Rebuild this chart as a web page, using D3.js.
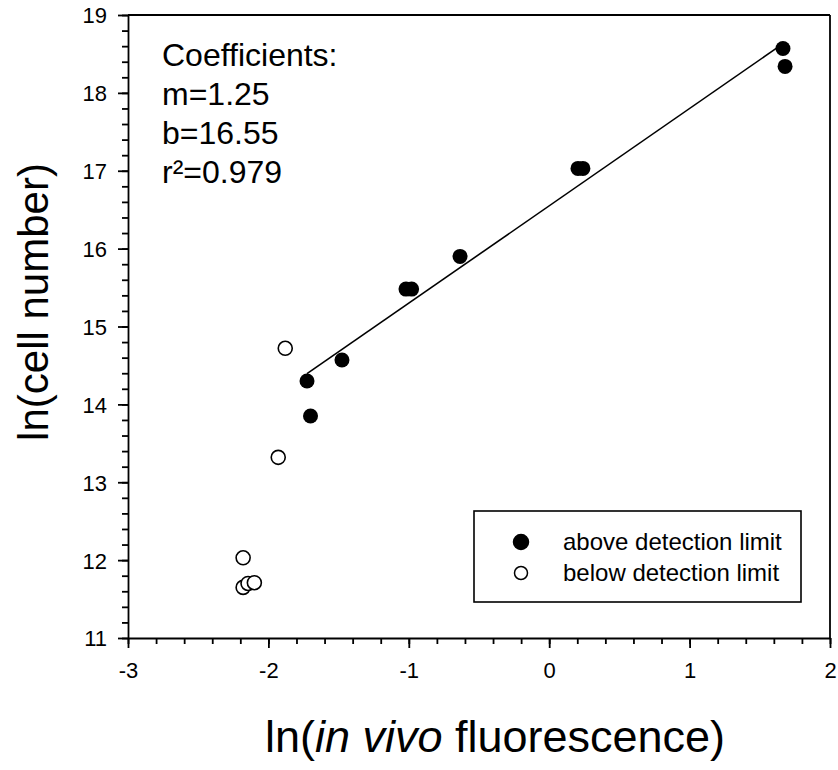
<!DOCTYPE html>
<meta charset="utf-8">
<style>
body { margin: 0; background: #fff; }
text { font-family: "Liberation Sans", Arial, sans-serif; }
.tick text { font-size: 22px; }
</style>
<body>
<script src="https://d3js.org/d3.v7.min.js"></script>
<script>

// data
var aboveX = [1.665, 1.68, 0.205, 0.24, -0.635, -1.02, -0.98, -1.476, -1.725, -1.70];
var aboveY = [18.57, 18.34, 17.03, 17.03, 15.90, 15.48, 15.48, 14.57, 14.30, 13.85];
var belowX = [-1.88, -1.93, -2.18, -2.18, -2.145, -2.10];
var belowY = [14.72, 13.32, 12.03, 11.65, 11.70, 11.71];
var xTicks = [-3, -2, -1, 0, 1, 2];
var yTicks = [11, 12, 13, 14, 15, 16, 17, 18, 19];
var coefLines = ["Coefficients:", "m=1.25", "b=16.55", "r\u00b2=0.979"];
var slope = 1.25, intercept = 16.55;
var legendLabels = ["above detection limit", "below detection limit"];

var w = 838, h = 770;
var margin = {top: 15, right: 8, bottom: 132, left: 128};
var width = w - margin.left - margin.right,
    height = h - margin.top - margin.bottom;

var svg = d3.select("body").append("svg")
    .attr("width", w)
    .attr("height", h);

var g = svg.append("g")
    .attr("transform", "translate(" + margin.left + "," + margin.top + ")");

var x = d3.scaleLinear().domain([-3, 2]).range([0, width]);
var y = d3.scaleLinear().domain([11, 19]).range([height, 0]);

// minor ticks every 0.2
var xMinor = d3.range(-3, 2.001, 0.2);
var yMinor = d3.range(11, 19.001, 0.2);

g.append("g")
    .attr("transform", "translate(0," + height + ")")
    .call(d3.axisBottom(x).tickValues(xMinor).tickSize(6).tickFormat(""))
    .call(function(a) { a.select(".domain").remove(); });
g.append("g")
    .call(d3.axisLeft(y).tickValues(yMinor).tickSize(6).tickFormat(""))
    .call(function(a) { a.select(".domain").remove(); });

var fmt = function(d) { return String(d); };

var xAxis = g.append("g")
    .attr("transform", "translate(0," + height + ")")
    .call(d3.axisBottom(x).tickValues(xTicks).tickSize(10).tickPadding(14)
        .tickSizeOuter(0).tickFormat(fmt));
var yAxis = g.append("g")
    .call(d3.axisLeft(y).tickValues(yTicks).tickSize(10).tickPadding(11)
        .tickSizeOuter(0).tickFormat(fmt));

g.selectAll(".tick line, .domain").attr("stroke", "#000").attr("stroke-width", 1.8);
xAxis.selectAll("text").attr("fill", "#000");
yAxis.selectAll("text").attr("fill", "#000").attr("dy", "0.36em");

// frame on top and right
g.append("line").attr("x1", 0).attr("x2", width).attr("y1", 0).attr("y2", 0)
    .attr("stroke", "#000").attr("stroke-width", 1.8);
g.append("line").attr("x1", width).attr("x2", width).attr("y1", 0).attr("y2", height)
    .attr("stroke", "#000").attr("stroke-width", 1.8);

// regression line over the filled points
var xmin = d3.min(aboveX), xmax = d3.max(aboveX) - 0.04;
g.append("line")
    .attr("x1", x(xmin)).attr("y1", y(slope * xmin + intercept))
    .attr("x2", x(xmax)).attr("y2", y(slope * xmax + intercept))
    .attr("stroke", "#000").attr("stroke-width", 1.6);

g.selectAll(".above")
    .data(aboveX)
    .enter().append("circle")
    .attr("class", "above")
    .attr("cx", function(d) { return x(d); })
    .attr("cy", function(d, i) { return y(aboveY[i]); })
    .attr("r", 7.5)
    .attr("fill", "#000");

g.selectAll(".below")
    .data(belowX)
    .enter().append("circle")
    .attr("class", "below")
    .attr("cx", function(d) { return x(d); })
    .attr("cy", function(d, i) { return y(belowY[i]); })
    .attr("r", 7)
    .attr("fill", "#fff")
    .attr("stroke", "#000")
    .attr("stroke-width", 1.6);

// coefficients text
g.selectAll(".coef")
    .data(coefLines)
    .enter().append("text")
    .attr("class", "coef")
    .attr("x", 34)
    .attr("y", function(d, i) { return 51 + i * 39; })
    .attr("font-size", "32px")
    .text(function(d) { return d; });

// legend
var lg = g.append("g").attr("transform", "translate(346,496)");
lg.append("rect")
    .attr("width", 327).attr("height", 91)
    .attr("fill", "#fff").attr("stroke", "#000").attr("stroke-width", 1.6);
lg.selectAll(".lm")
    .data(legendLabels)
    .enter().append("circle")
    .attr("cx", 47)
    .attr("cy", function(d, i) { return 31 + i * 31; })
    .attr("r", function(d, i) { return i == 0 ? 7.5 : 6.5; })
    .attr("fill", function(d, i) { return i == 0 ? "#000" : "#fff"; })
    .attr("stroke", "#000")
    .attr("stroke-width", 1.5);
lg.selectAll(".lt")
    .data(legendLabels)
    .enter().append("text")
    .attr("x", 89)
    .attr("y", function(d, i) { return 39 + i * 31; })
    .attr("font-size", "24px")
    .text(function(d) { return d; });

// axis titles
svg.append("text")
    .attr("transform", "translate(48,302) rotate(-90)")
    .attr("text-anchor", "middle")
    .attr("font-size", "42px")
    .text("ln(cell number)");

var xt = svg.append("text")
    .attr("x", 495)
    .attr("y", 752)
    .attr("text-anchor", "middle")
    .attr("font-size", "45px");
xt.append("tspan").text("ln(");
xt.append("tspan").attr("font-style", "italic").text("in vivo");
xt.append("tspan").text(" fluorescence)");

</script>
</body>
